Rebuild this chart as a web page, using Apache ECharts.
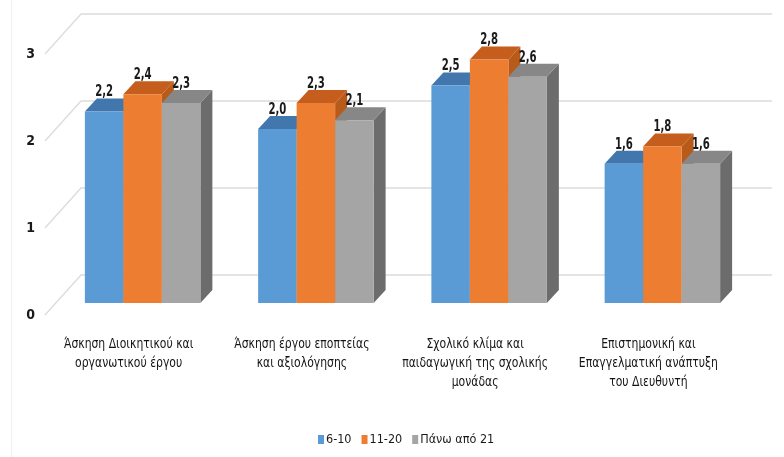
<!DOCTYPE html>
<html>
<head>
<meta charset="utf-8">
<script src="https://cdn.jsdelivr.net/npm/echarts@6/dist/echarts.min.js"></script>
<style>
  html, body { margin: 0; padding: 0; background: #ffffff; }
  #chart { width: 784px; height: 457px; }
</style>
</head>
<body>
<div id="chart"></div>
<script>
// Categories (duties of the school principal) and mean scores per years-of-service group
const categories = [
  'Άσκηση Διοικητικού και\nοργανωτικού έργου',
  'Άσκηση έργου εποπτείας\nκαι αξιολόγησης',
  'Σχολικό κλίμα και\nπαιδαγωγική της σχολικής\nμονάδας',
  'Επιστημονική και\nΕπαγγελματική ανάπτυξη\nτου Διευθυντή'
];
const seriesNames = ['6-10', '11-20', 'Πάνω από 21'];
const values6to10 = [2.2, 2.0, 2.5, 1.6];
const values11to20 = [2.4, 2.3, 2.8, 1.8];
const valuesOver21 = [2.3, 2.1, 2.6, 1.6];
const yTicks = [0, 1, 2, 3];

// Face colours for each group: front, top, side
const palette = [
  { front: '#5b9bd5', top: '#4277ad', side: '#41719c' },
  { front: '#ed7d31', top: '#c55d1c', side: '#b85a1a' },
  { front: '#a5a5a5', top: '#878787', side: '#6c6c6c' }
];

// Projection of the depth axis on screen
const FLOOR_DX = 11, FLOOR_DY = 12;   // front edge -> front of the bars
const BOX_DX = 12, BOX_DY = 13;       // depth of one bar
const WALL_DX = 36, WALL_DY = 40;     // front edge -> back wall
const BAR_FRACTION = 0.2222;          // width of one bar relative to the category band

const font = "'DejaVu Sans Condensed', 'Liberation Sans Narrow', 'Noto Sans', sans-serif";

function fmt(v) {
  return v.toFixed(1).replace('.', ',');
}

function barRenderer(groupIndex) {
  const col = palette[groupIndex];
  return function (params, api) {
    const cat = api.value(0);
    const val = api.value(1);
    const base = api.coord([cat, 0]);
    const top = api.coord([cat, val]);
    const band = api.size([1, 0])[0];
    const w = band * BAR_FRACTION;
    const x0 = base[0] - 1.5 * w + groupIndex * w + FLOOR_DX;
    const yb = base[1] - FLOOR_DY;
    const yt = top[1] - FLOOR_DY;
    return {
      type: 'group',
      children: [
        {
          type: 'polygon',
          shape: { points: [[x0 + w, yt], [x0 + w + BOX_DX, yt - BOX_DY], [x0 + w + BOX_DX, yb - BOX_DY], [x0 + w, yb]] },
          style: { fill: col.side }
        },
        {
          type: 'polygon',
          shape: { points: [[x0, yt], [x0 + w, yt], [x0 + w + BOX_DX, yt - BOX_DY], [x0 + BOX_DX, yt - BOX_DY]] },
          style: { fill: col.top }
        },
        {
          type: 'rect',
          shape: { x: x0, y: yt, width: w, height: yb - yt },
          style: { fill: col.front }
        },
        {
          type: 'text',
          x: x0 + w / 2,
          y: yt - 19,
          scaleX: 0.75,
          style: {
            text: fmt(val),
            fill: '#1a1a1a',
            font: 'bold 15px ' + font,
            align: 'center',
            verticalAlign: 'middle'
          }
        }
      ]
    };
  };
}

// Back wall gridlines with the side-wall diagonals
function wallRenderer(params, api) {
  const cs = params.coordSys;
  const y = api.coord([0, api.value(0)])[1];
  const left = cs.x;
  const right = cs.x + cs.width;
  return {
    type: 'polyline',
    shape: { points: [[left, y], [left + WALL_DX, y - WALL_DY], [right + 34, y - WALL_DY]] },
    style: { stroke: '#dcdcdc', lineWidth: 1.3, fill: null }
  };
}

// Category names under the floor, set in a narrow face
function categoryLabelRenderer(params, api) {
  const i = api.value(0);
  const p = api.coord([i, 0]);
  return {
    type: 'text',
    x: p[0] - 3,
    y: p[1] + 20,
    scaleX: 0.86,
    style: {
      text: categories[i],
      fill: '#151515',
      font: '14px ' + font,
      lineHeight: 19,
      align: 'center',
      verticalAlign: 'top'
    }
  };
}

const groups = [values6to10, values11to20, valuesOver21];

const series = [{
  type: 'custom',
  name: 'wall',
  silent: true,
  clip: false,
  z: 1,
  renderItem: wallRenderer,
  data: yTicks.map(v => [v]),
  encode: { y: 0 }
}, {
  type: 'custom',
  name: 'categoryLabels',
  silent: true,
  clip: false,
  z: 1,
  renderItem: categoryLabelRenderer,
  data: categories.map((c, i) => [i]),
  encode: { x: 0 }
}];

groups.forEach((vals, gi) => {
  series.push({
    type: 'custom',
    name: seriesNames[gi],
    clip: false,
    z: 2 + gi,
    itemStyle: { color: palette[gi].front },
    renderItem: barRenderer(gi),
    data: vals.map((v, i) => [i, v]),
    encode: { x: 0, y: 1 }
  });
});

const chart = echarts.init(document.getElementById('chart'), null, { renderer: 'canvas' });
chart.setOption({
  animation: false,
  backgroundColor: '#ffffff',
  grid: { left: 45, right: 46, top: 54, bottom: 142, containLabel: false },
  xAxis: {
    type: 'category',
    data: categories,
    axisLine: { show: false },
    axisTick: { show: false },
    splitLine: { show: false },
    axisLabel: { show: false }
  },
  yAxis: {
    type: 'value',
    min: 0,
    max: 3,
    interval: 1,
    axisLine: { show: false },
    axisTick: { show: false },
    splitLine: { show: false },
    axisLabel: {
      margin: 10,
      color: '#1a1a1a',
      fontFamily: font,
      fontWeight: 'bold',
      fontSize: 14
    }
  },
  legend: {
    data: seriesNames,
    left: 313,
    top: 428,
    icon: 'rect',
    itemWidth: 6,
    itemHeight: 9,
    itemGap: 10,
    textStyle: { color: '#1a1a1a', fontFamily: font, fontSize: 12.5, padding: [0, 0, 0, -3] }
  },
  graphic: [{
    type: 'line',
    silent: true,
    shape: { x1: 11.5, y1: 0, x2: 11.5, y2: 457 },
    style: { stroke: '#f0f0f0', lineWidth: 1 }
  }],
  series: series
});
</script>
</body>
</html>
